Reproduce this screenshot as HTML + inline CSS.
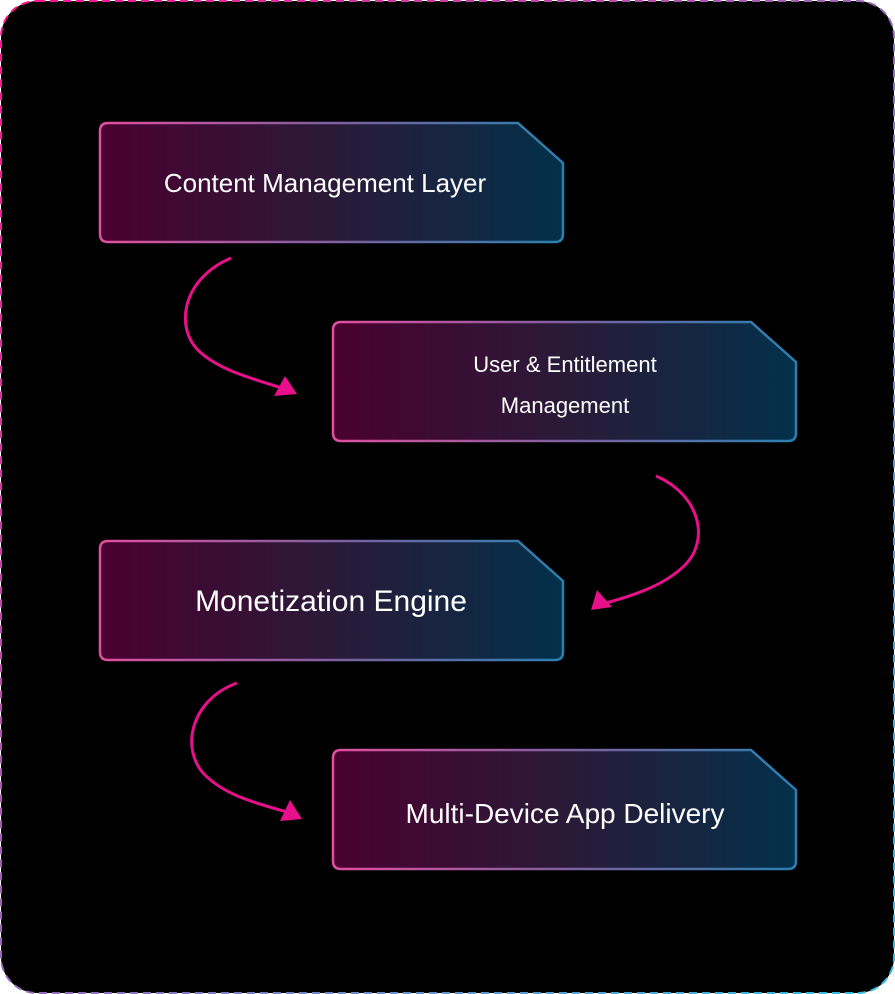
<!DOCTYPE html>
<html><head><meta charset="utf-8"><style>
html,body{margin:0;padding:0;background:#fff;}
svg{display:block}
text{font-family:"Liberation Sans",sans-serif;fill:#fff}
</style></head><body>
<svg width="895" height="994" viewBox="0 0 895 994" xmlns="http://www.w3.org/2000/svg">
<defs>
<linearGradient id="fill" x1="0" y1="0" x2="1" y2="0">
<stop offset="0" stop-color="#4a0030"/><stop offset="0.5" stop-color="#2a1a38"/><stop offset="1" stop-color="#03304a"/>
</linearGradient>
<linearGradient id="stroke" x1="0" y1="0" x2="1" y2="0">
<stop offset="0" stop-color="#e050a0"/><stop offset="0.5" stop-color="#8060a0"/><stop offset="1" stop-color="#2a80b0"/>
</linearGradient>
<linearGradient id="bord" x1="0" y1="0" x2="1" y2="1">
<stop offset="0" stop-color="#ff1090"/><stop offset="1" stop-color="#30c0e0"/>
</linearGradient>
<g id="box">
<path d="M8,0 H418 L463,40 V111 Q463,119 455,119 H8 Q0,119 0,111 V8 Q0,0 8,0 Z" fill="url(#fill)" stroke="url(#stroke)" stroke-width="2.5"/>
</g>
</defs>
<rect x="1" y="1" width="893" height="992" rx="36" fill="#000" stroke="url(#bord)" stroke-width="2" stroke-dasharray="8 5"/>
<use href="#box" x="100" y="123"/>
<use href="#box" x="333" y="322"/>
<use href="#box" x="100" y="541"/>
<use href="#box" x="333" y="750"/>
<text x="325" y="192" font-size="26" text-anchor="middle">Content Management Layer</text>
<text x="565" y="372" font-size="22" text-anchor="middle">User &amp; Entitlement</text>
<text x="565" y="413" font-size="22" text-anchor="middle">Management</text>
<text x="331" y="611" font-size="30" text-anchor="middle">Monetization Engine</text>
<text x="565" y="823" font-size="28" text-anchor="middle">Multi-Device App Delivery</text>
<g fill="none" stroke="#e8108a" stroke-width="3">
<path d="M231,258 C180,280 175,330 200,352 C220,370 250,378 282,388"/>
<path d="M656,476 C700,495 710,540 685,565 C665,585 635,595 606,603"/>
<path d="M237,683 C190,700 180,750 205,775 C225,795 255,803 287,812"/>
</g>
<g fill="#e8108a">
<polygon points="297,394 274,396 285,376"/>
<polygon points="591,610 597,590 612,607"/>
<polygon points="302,819 280,821 290,800"/>
</g>
</svg>
</body></html>
